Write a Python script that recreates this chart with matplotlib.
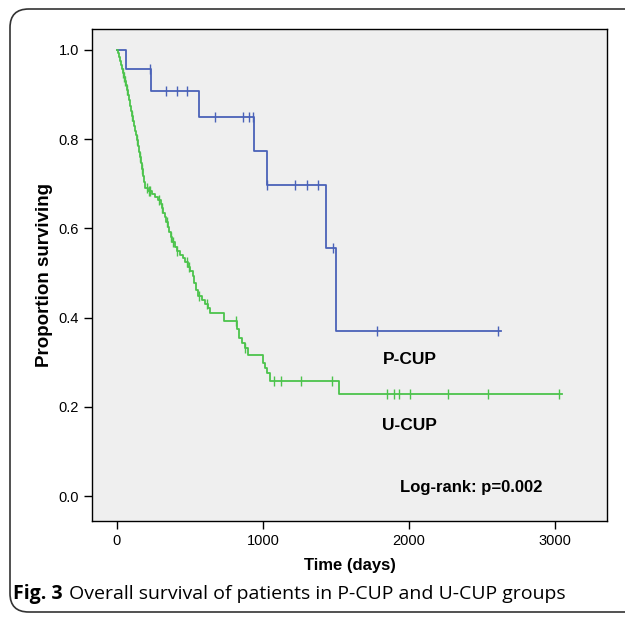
import numpy as np
import matplotlib.pyplot as plt
from matplotlib.patches import FancyBboxPatch

# P-CUP: event times (days) and survival after each event
p_times = [62, 232, 564, 938, 1027, 1429, 1498]
p_surv = [0.957, 0.908, 0.850, 0.774, 0.697, 0.557, 0.371]
p_cens = [225, 333, 408, 477, 671, 866, 907, 934, 1030, 1217, 1303, 1379, 1482, 1783, 2608]
p_end = 2630

# U-CUP
u_times = [7, 14, 21, 27, 34, 41, 48, 55, 62, 68, 75, 82, 89, 96, 103, 110, 116, 123,
           130, 137, 144, 151, 158, 164, 171, 178, 185, 192, 212, 240, 260, 281, 301,
           308, 315, 329, 336, 349, 356, 370, 377, 397, 411, 432, 452, 466, 486, 500,
           521, 527, 541, 555, 582, 603, 623, 637, 733, 822, 836, 856, 877, 897, 1000,
           1014, 1027, 1048, 1521]
u_surv = [0.993, 0.984, 0.975, 0.966, 0.957, 0.948, 0.939, 0.930, 0.922, 0.910, 0.899,
          0.888, 0.874, 0.863, 0.852, 0.841, 0.830, 0.818, 0.809, 0.798, 0.785, 0.771,
          0.760, 0.747, 0.733, 0.717, 0.704, 0.691, 0.684, 0.677, 0.670, 0.664, 0.655,
          0.646, 0.635, 0.626, 0.614, 0.603, 0.592, 0.581, 0.570, 0.558, 0.549, 0.540,
          0.534, 0.525, 0.513, 0.504, 0.493, 0.478, 0.462, 0.448, 0.439, 0.430, 0.422,
          0.410, 0.392, 0.374, 0.354, 0.343, 0.332, 0.316, 0.298, 0.287, 0.276, 0.258,
          0.229]
u_cens = [41, 48, 55, 68, 103, 137, 158, 171, 205, 219, 226, 288, 308, 342, 370, 384,
          411, 479, 493, 562, 616, 815, 877, 1075, 1123, 1260, 1473, 1849, 1897, 1932,
          2007, 2267, 2541, 3027]
u_end = 3050

x_ticks = [0, 1000, 2000, 3000]
y_ticks = [0.0, 0.2, 0.4, 0.6, 0.8, 1.0]

blue = '#4a62b8'
green = '#4cc34c'

plt.rcParams['font.family'] = ['Liberation Sans', 'DejaVu Sans']

fig = plt.figure(figsize=(6.25, 6.18), dpi=100)
W, H = 625, 618
ax = fig.add_axes([92 / W, 1 - 521 / H, (607 - 92) / W, (521 - 29) / H])
ax.set_facecolor('#efefef')


def km(times, surv, cens, end, color):
    t = [0] + list(times) + [end]
    s = [1.0] + list(surv) + [surv[-1]]
    ax.step(t, s, where='post', color=color, lw=1.3)
    idx = np.searchsorted(times, cens, side='right')
    cy = np.array([1.0] + list(surv))[idx]
    ax.plot(cens, cy, ls='none', marker='|', ms=7, mew=1.0, color=color)


km(p_times, p_surv, p_cens, p_end, blue)
km(u_times, u_surv, u_cens, u_end, green)

ax.set_xlim(-171, 3356)
ax.set_ylim(-0.056, 1.047)
ax.set_xticks(x_ticks)
ax.set_yticks(y_ticks)
ax.set_yticklabels(['%.1f' % v for v in y_ticks])
ax.tick_params(direction='out', length=6, width=1, labelsize=10.5)
for sp in ax.spines.values():
    sp.set_linewidth(1)

ax.set_xlabel('Time (days)', fontsize=12, fontweight='bold', labelpad=7)
ax.set_ylabel('Proportion surviving', fontsize=13.5, fontweight='bold', labelpad=4)

ax.text(1822, 0.307, 'P-CUP', fontsize=12.5, fontweight='bold', va='center')
ax.text(1815, 0.157, 'U-CUP', fontsize=12.5, fontweight='bold', va='center')
ax.text(1938, 0.02, 'Log-rank: p=0.002', fontsize=12, fontweight='bold', va='center')

box = FancyBboxPatch((10 / W, 1 - 612 / H), 700 / W, 603 / H,
                     boxstyle='round,pad=0,rounding_size=0.03',
                     transform=fig.transFigure, fill=False, ec='#333333', lw=1.2,
                     clip_on=False)
fig.patches.append(box)

fig.text(13 / W, 1 - 594 / H, 'Fig. 3', fontsize=14, fontweight='bold',
         family=['Open Sans', 'DejaVu Sans'], va='center')
fig.text(69 / W, 1 - 594 / H, 'Overall survival of patients in P-CUP and U-CUP groups',
         fontsize=14, family=['Open Sans', 'DejaVu Sans'], va='center')

fig.savefig('out.png', dpi=100)
